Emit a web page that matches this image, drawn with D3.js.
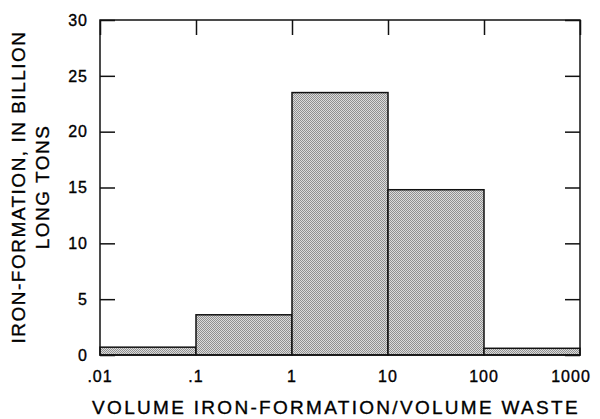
<!DOCTYPE html>
<html>
<head>
<meta charset="utf-8">
<script src="https://cdn.jsdelivr.net/npm/d3@7"></script>
<style>
  body { margin: 0; background: #fff; }
  text { font-family: "Liberation Sans", Arial, sans-serif; fill: #000; stroke: #000; stroke-width: 0.35px; }
</style>
</head>
<body>
<svg id="chart"></svg>
<script>
// bins of volume ratio (log scale) and tonnage in each bin
var binEdges = [0.01, 0.1, 1, 10, 100, 1000];
var tonnage = [0.7, 3.6, 23.5, 14.8, 0.6];
var xTickValues = [0.01, 0.1, 1, 10, 100, 1000];
var xTickLabels = [".01", ".1", "1", "10", "100", "1000"];
var yTickValues = [0, 5, 10, 15, 20, 25, 30];
var yTitle = ["IRON-FORMATION, IN BILLION", "LONG TONS"];
var xTitle = "VOLUME  IRON-FORMATION/VOLUME  WASTE";

var width = 600, height = 419;
var plotLeft = 100, plotRight = 580, plotTop = 20, plotBottom = 355;

var svg = d3.select("#chart").attr("width", width).attr("height", height);

// stipple fill like the printed figure
var defs = svg.append("defs");
var pat = defs.append("pattern")
    .attr("id", "stipple")
    .attr("width", 2).attr("height", 2)
    .attr("patternUnits", "userSpaceOnUse");
pat.append("rect").attr("width", 2).attr("height", 2).attr("fill", "#dcdcdc");
pat.append("rect").attr("x", 0).attr("y", 0).attr("width", 1).attr("height", 1).attr("fill", "#909090");
pat.append("rect").attr("x", 1).attr("y", 1).attr("width", 1).attr("height", 1).attr("fill", "#909090");

var x = d3.scaleLog().domain([0.01, 1000]).range([plotLeft, plotRight]);
var y = d3.scaleLinear().domain([0, 30]).range([plotBottom, plotTop]);

var bins = tonnage.map(function(v, i) {
    return {x0: binEdges[i], x1: binEdges[i + 1], v: v};
});

// bars
svg.append("g").selectAll("rect").data(bins).enter().append("rect")
    .attr("x", function(d) { return x(d.x0); })
    .attr("y", function(d) { return y(d.v); })
    .attr("width", function(d) { return x(d.x1) - x(d.x0); })
    .attr("height", function(d) { return y(0) - y(d.v); })
    .attr("fill", "url(#stipple)")
    .attr("stroke", "#111")
    .attr("stroke-width", 1.5);

// frame
svg.append("rect")
    .attr("x", plotLeft).attr("y", plotTop)
    .attr("width", plotRight - plotLeft).attr("height", plotBottom - plotTop)
    .attr("fill", "none").attr("stroke", "#111").attr("stroke-width", 1.5);

// left axis, ticks pointing inward
var yAxisL = d3.axisRight(y).tickValues(yTickValues).tickSize(15).tickFormat("");
var gl = svg.append("g").attr("transform", "translate(" + plotLeft + ",0)").call(yAxisL);
gl.select(".domain").remove();
gl.selectAll("line").attr("stroke", "#111").attr("stroke-width", 1.5);

// y labels
svg.append("g").selectAll("text").data(yTickValues).enter().append("text")
    .attr("x", plotLeft - 12)
    .attr("y", function(d) { return y(d); })
    .attr("dy", "0.36em")
    .attr("text-anchor", "end")
    .attr("font-size", 16)
    .attr("letter-spacing", 1)
    .text(function(d) { return d; });

// right axis
var yAxisR = d3.axisLeft(y).tickValues(yTickValues).tickSize(15).tickFormat("");
var gr = svg.append("g").attr("transform", "translate(" + plotRight + ",0)").call(yAxisR);
gr.select(".domain").remove();
gr.selectAll("line").attr("stroke", "#111").attr("stroke-width", 1.5);

// top axis, ticks pointing down
var xAxisT = d3.axisBottom(x).tickValues(xTickValues).tickSize(15).tickFormat("");
var gt = svg.append("g").attr("transform", "translate(0," + plotTop + ")").call(xAxisT);
gt.select(".domain").remove();
gt.selectAll("line").attr("stroke", "#111").attr("stroke-width", 1.5);

// x labels
svg.append("g").selectAll("text").data(xTickValues).enter().append("text")
    .attr("x", function(d, i) { return i == xTickValues.length - 1 ? x(d) - 9 : x(d); })
    .attr("y", 382)
    .attr("text-anchor", "middle")
    .attr("font-size", 16)
    .attr("letter-spacing", 1)
    .text(function(d, i) { return xTickLabels[i]; });

// axis titles
svg.append("text")
    .attr("x", 336).attr("y", 414)
    .attr("text-anchor", "middle")
    .attr("font-size", 19)
    .attr("letter-spacing", 2.3)
    .text(xTitle);

svg.append("g").attr("transform", "translate(25,187) rotate(-90)")
    .selectAll("text").data(yTitle).enter().append("text")
    .attr("x", 0)
    .attr("y", function(d, i) { return i * 24; })
    .attr("text-anchor", "middle")
    .attr("font-size", 19)
    .attr("letter-spacing", 1.5)
    .text(function(d) { return d; });
</script>
</body>
</html>
